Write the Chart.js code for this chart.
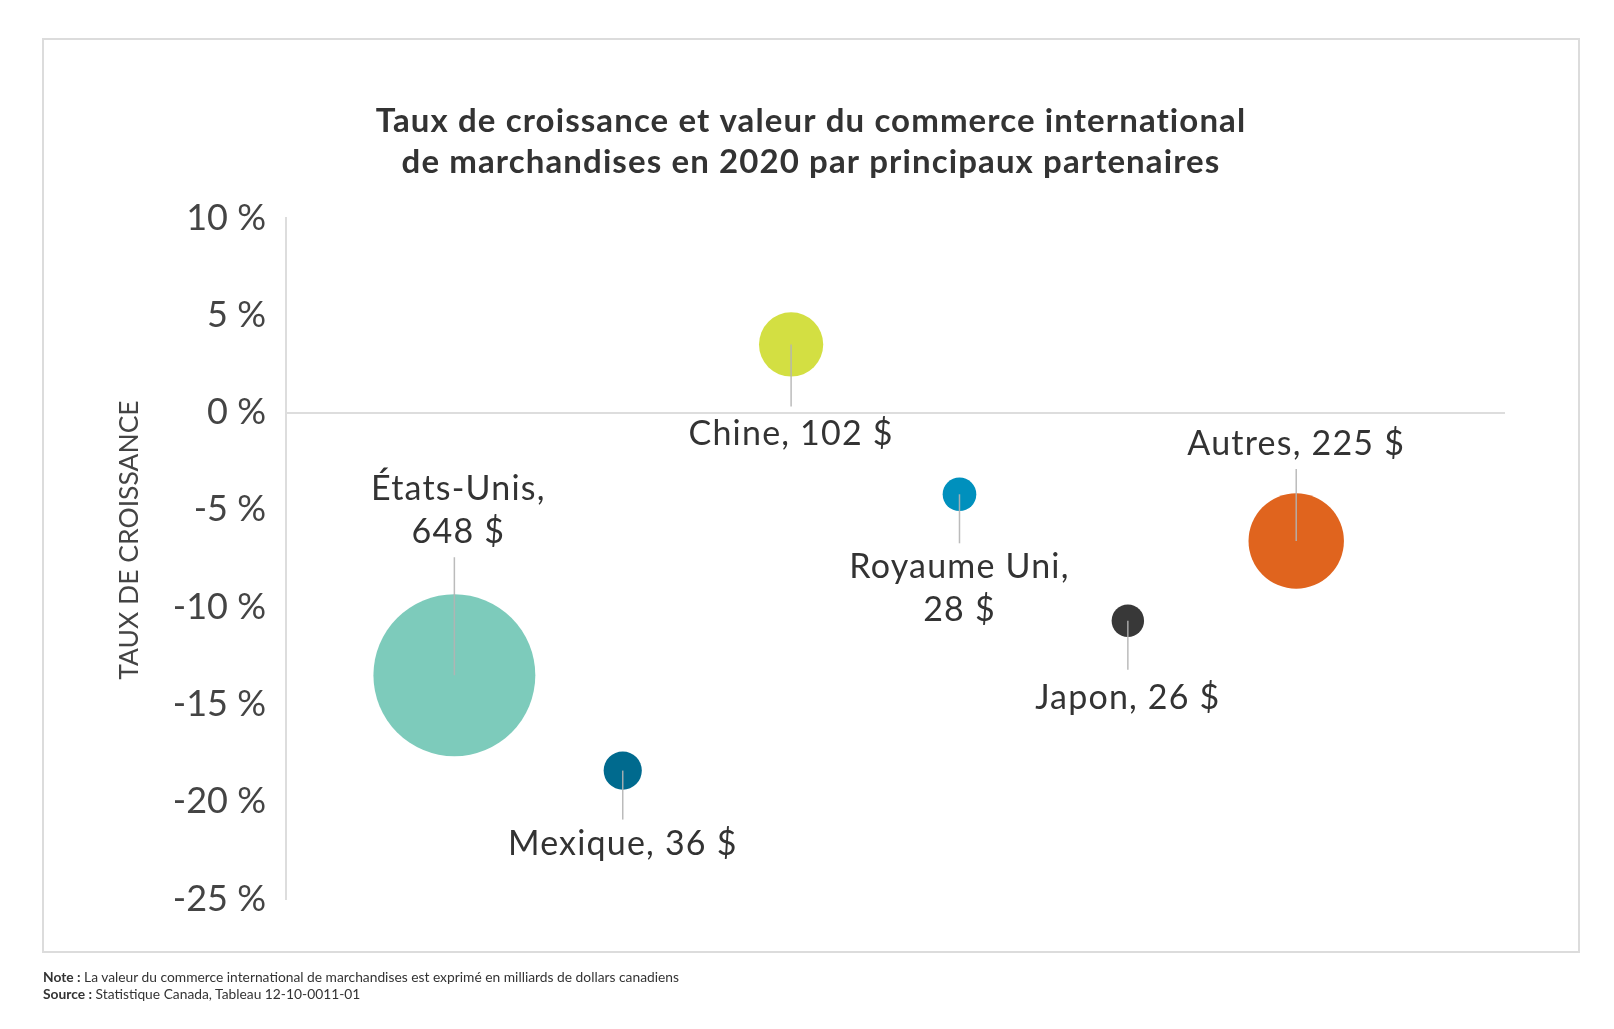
<!DOCTYPE html>
<html lang="fr">
<head>
<meta charset="utf-8">
<script src="https://cdn.jsdelivr.net/npm/chart.js@4.4.1/dist/chart.umd.min.js"></script>
<style>
  html, body { margin: 0; padding: 0; background: #fff; }
  #wrap { position: relative; width: 1614px; height: 1029px; }
  #c { position: absolute; left: 0; top: 0; }
  #notes { position: absolute; left: 43px; top: 969px; font-family: Lato, "Open Sans", sans-serif; font-size: 13.8px; line-height: 16.5px; color: #333; }
  #notes b { font-weight: 700; }
</style>
</head>
<body>
<div id="wrap">
  <canvas id="c" width="1614" height="1029"></canvas>
  <div id="notes">
    <div><b>Note :</b> La valeur du commerce international de marchandises est exprimé en milliards de dollars canadiens</div>
    <div><b>Source :</b> Statistique Canada, Tableau 12-10-0011-01</div>
  </div>
</div>
<script>
// ---- Data ----
const titleLines = ["Taux de croissance et valeur du commerce international", "de marchandises en 2020 par principaux partenaires"];
const yAxisTitle = "TAUX DE CROISSANCE";
const partners = ["États-Unis", "Mexique", "Chine", "Royaume Uni", "Japon", "Autres"];
const growthRates = [-13.5, -18.4, 3.5, -4.2, -10.7, -6.6];      // % growth
const tradeValues = [648, 36, 102, 28, 26, 225];                  // billions CAD
const labelLines = [["États-Unis,", "648 $"], ["Mexique, 36 $"], ["Chine, 102 $"], ["Royaume Uni,", "28 $"], ["Japon, 26 $"], ["Autres, 225 $"]];
const labelAbove = [true, false, false, false, false, true];
const colors = ["#7dcbbb", "#006a8e", "#d3df42", "#0090bd", "#383838", "#e0641e"];
const yTicks = [10, 5, 0, -5, -10, -15, -20, -25];

const RADIUS_PER_SQRT = 3.18;

const points = partners.map((p, i) => ({ x: i, y: growthRates[i], v: tradeValues[i] }));

const annotate = {
  id: 'annotate',
  beforeDraw(chart) {
    const ctx = chart.ctx;
    ctx.save();
    ctx.fillStyle = '#fff';
    ctx.fillRect(0, 0, chart.width, chart.height);
    ctx.strokeStyle = '#dcdcdc';
    ctx.lineWidth = 2;
    ctx.strokeRect(43, 39, 1536, 913);
    // title
    ctx.fillStyle = '#333';
    ctx.font = 'bold 33px Lato, "Open Sans", sans-serif';
    ctx.letterSpacing = '1.1px';
    ctx.textAlign = 'center';
    ctx.textBaseline = 'middle';
    ctx.fillText(titleLines[0], 811, 121);
    ctx.fillText(titleLines[1], 811, 162);
    ctx.letterSpacing = '0px';
    // y axis title
    ctx.save();
    ctx.translate(129, 540);
    ctx.rotate(-Math.PI / 2);
    ctx.fillStyle = '#444';
    ctx.font = '26.5px Lato, "Open Sans", sans-serif';
    ctx.fillText(yAxisTitle, 0, 0);
    ctx.restore();
    ctx.restore();
  },
  afterDatasetsDraw(chart) {
    const ctx = chart.ctx;
    const meta = chart.getDatasetMeta(0);
    ctx.save();
    ctx.font = '34px Lato, "Open Sans", sans-serif';
    ctx.letterSpacing = '1.2px';
    ctx.textAlign = 'center';
    ctx.textBaseline = 'middle';
    meta.data.forEach((el, i) => {
      const cx = el.x, cy = el.y;
      const lines = labelLines[i];
      const lh = 43;
      let lineEnd, firstY;
      if (labelAbove[i]) {
        lineEnd = cy - (i === 0 ? 118 : 72);
        firstY = lineEnd - 25 - (lines.length - 1) * lh;
      } else {
        lineEnd = cy + (i === 2 ? 62 : 49);
        firstY = lineEnd + ((i === 2 || i === 4) ? 28 : 24);
      }
      ctx.strokeStyle = 'rgba(180,180,180,0.9)';
      ctx.lineWidth = 1.5;
      ctx.beginPath();
      ctx.moveTo(cx, cy);
      ctx.lineTo(cx, lineEnd);
      ctx.stroke();
      ctx.fillStyle = '#333';
      lines.forEach((t, k) => ctx.fillText(t, cx + (i === 0 ? 4 : 0), firstY + k * lh));
    });
    ctx.letterSpacing = '0px';
    ctx.restore();
  }
};

new Chart(document.getElementById('c'), {
  type: 'bubble',
  data: {
    datasets: [{
      data: points,
      backgroundColor: colors,
      borderWidth: 0,
      hoverBorderWidth: 0,
      radius: (c) => RADIUS_PER_SQRT * Math.sqrt(tradeValues[c.dataIndex])
    }]
  },
  options: {
    responsive: false,
    animation: false,
    events: [],
    layout: { padding: { left: 0, top: 218, right: 109, bottom: 130 } },
    plugins: { legend: { display: false }, tooltip: { enabled: false }, title: { display: false } },
    scales: {
      x: { type: 'linear', display: false, min: -1, max: 6.24 },
      y: {
        type: 'linear', min: -25, max: 10,
        afterFit(s) { s.width = 286; },
        afterBuildTicks(s) { s.ticks = yTicks.map(v => ({ value: v })); },
        ticks: {
          padding: 20,
          color: '#444',
          font: { family: 'Lato, "Open Sans", sans-serif', size: 36 },
          callback: (v) => v + ' %'
        },
        grid: {
          drawTicks: false,
          color: (c) => (c.tick && c.tick.value === 0) ? '#dddddd' : 'rgba(0,0,0,0)',
          lineWidth: 2
        },
        border: { display: true, color: '#dddddd', width: 2 }
      }
    }
  },
  plugins: [annotate]
});
</script>
</body>
</html>
